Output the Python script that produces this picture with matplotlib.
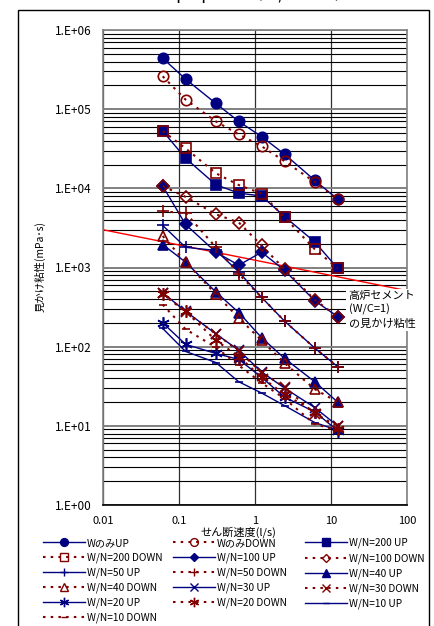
import matplotlib
matplotlib.use("Agg")
import matplotlib.pyplot as plt
from matplotlib.lines import Line2D
from matplotlib.patches import Rectangle
from matplotlib.ticker import FixedLocator, LogLocator, NullFormatter

plt.rcParams['font.family'] = ['Noto Sans CJK JP', 'DejaVu Sans']

# ---------------- data ----------------
shear = [0.061, 0.122, 0.306, 0.612, 1.22, 2.45, 6.12, 12.2]

w_up = [4.4e5, 2.4e5, 1.18e5, 7.0e4, 4.5e4, 2.7e4, 1.26e4, 7.3e3]
w_down = [2.6e5, 1.32e5, 7.0e4, 4.8e4, 3.4e4, 2.2e4, 1.2e4, 7.3e3]
wn200_up = [5.3e4, 2.4e4, 1.11e4, 8.7e3, 8.0e3, 4.4e3, 2.1e3, 9.8e2]
wn200_down = [5.3e4, 3.2e4, 1.55e4, 1.1e4, 8.6e3, 4.3e3, 1.7e3, 9.8e2]
wn100_up = [1.07e4, 3.5e3, 1.56e3, 1.07e3, 1.56e3, 9.2e2, 3.8e2, 2.4e2]
wn100_down = [1.07e4, 7.8e3, 4.7e3, 3.7e3, 1.9e3, 9.5e2, 3.9e2, 2.4e2]
wn50_up = [3.4e3, 1.8e3, 1.64e3, 8.8e2, 4.2e2, 2.1e2, 96, 56]
wn50_down = [5.1e3, 4.9e3, 1.8e3, 8.3e2, 4.2e2, 2.1e2, 96, 56]
wn40_up = [1.95e3, 1.17e3, 4.9e2, 2.7e2, 1.3e2, 71, 36, 20]
wn40_down = [2.5e3, 1.17e3, 4.6e2, 2.3e2, 1.2e2, 62, 29, 20]
wn30_up = [4.8e2, 2.8e2, 1.45e2, 90, 48, 30, 17, 10]
wn30_down = [4.7e2, 2.75e2, 1.45e2, 88, 47, 31, 14, 10]
wn20_up = [2.0e2, 1.07e2, 82, 69, 41, 23, 15, 8.7]
wn20_down = [4.6e2, 2.8e2, 1.2e2, 75, 41, 25, 15, 9.0]
wn10_up = [1.7e2, 87, 63, 36, 26, 18, 11, 8.8]
wn10_down = [3.4e2, 1.66e2, 98, 58, 35, 22, 10.5, 8.8]

slag_x = [0.01, 100]
slag_y = [3.0e3, 5.1e2]

labels = ["WのみUP", "WのみDOWN", "W/N=200 UP", "W/N=200 DOWN",
          "W/N=100 UP", "W/N=100 DOWN", "W/N=50 UP", "W/N=50 DOWN",
          "W/N=40 UP", "W/N=40 DOWN", "W/N=30 UP", "W/N=30 DOWN",
          "W/N=20 UP", "W/N=20 DOWN", "W/N=10 UP", "W/N=10 DOWN"]
series = [w_up, w_down, wn200_up, wn200_down, wn100_up, wn100_down,
          wn50_up, wn50_down, wn40_up, wn40_down, wn30_up, wn30_down,
          wn20_up, wn20_down, wn10_up, wn10_down]

xticks = [0.01, 0.1, 1, 10, 100]
xtick_labels = ["0.01", "0.1", "1", "10", "100"]
yticks = [1, 10, 100, 1e3, 1e4, 1e5, 1e6]
ytick_labels = ["1.E+00", "1.E+01", "1.E+02", "1.E+03", "1.E+04", "1.E+05", "1.E+06"]

# ---------------- styles ----------------
NAVY = "#000080"
DRED = "#800000"
ast = (6, 2, 0)
markers = ['o', 'o', 's', 's', 'D', 'D', '+', '+', '^', '^', 'x', 'x', ast, ast, '_', '_']
msizes = [7.5, 7.5, 7, 7, 6, 6, 8, 8, 7.5, 7.5, 7, 7, 9, 9, 6, 6]

W, H = 434, 626
fig = plt.figure(figsize=(W / 100, H / 100), dpi=100)

# outer frame
fig.patches.append(Rectangle((18 / W, 1 - 640 / H), 411 / W, 630 / H,
                             transform=fig.transFigure, fill=False,
                             edgecolor='black', lw=1.0))

# clipped title (only its lower edge is visible)
fig.text(0.52, 1 + 1 / H, "図－５　η－γ関係（W/Nごと）", ha='center', va='baseline',
         fontsize=13, color='black')

ax = fig.add_axes([103 / W, 1 - 505 / H, 304 / W, 475 / H])
ax.set_xscale('log')
ax.set_yscale('log')
ax.set_xlim(0.01, 100)
ax.set_ylim(1, 1e6)

ax.xaxis.set_major_locator(FixedLocator(xticks))
ax.set_xticklabels(xtick_labels, fontsize=8)
ax.xaxis.set_minor_formatter(NullFormatter())
ax.xaxis.set_minor_locator(FixedLocator([]))
ax.yaxis.set_major_locator(FixedLocator(yticks))
ax.set_yticklabels(ytick_labels, fontsize=8.5)
ax.yaxis.set_minor_locator(LogLocator(base=10, subs=range(2, 10)))
ax.yaxis.set_minor_formatter(NullFormatter())
ax.tick_params(axis='both', which='both', length=0)
ax.tick_params(axis='y', pad=8)
ax.tick_params(axis='x', pad=8)

ax.grid(True, axis='y', which='minor', color='black', lw=0.8)
ax.grid(True, axis='y', which='major', color='#808080', lw=1.4)
ax.grid(True, axis='x', which='major', color='#303030', lw=0.9)
ax.set_axisbelow(True)
for s in ax.spines.values():
    s.set_color('#808080')
    s.set_linewidth(1.2)
ax.spines['bottom'].set_color('black')

for i, (vals, lab) in enumerate(zip(series, labels)):
    up = (i % 2 == 0)
    if up:
        ax.plot(shear, vals, color=NAVY, lw=1.0, marker=markers[i],
                markersize=msizes[i], markerfacecolor=NAVY,
                markeredgecolor=NAVY, markeredgewidth=1.2, label=lab,
                zorder=3)
    else:
        ax.plot(shear, vals, color=DRED, lw=1.5, ls=(0, (1.2, 2.5)),
                marker=markers[i], markersize=msizes[i],
                markerfacecolor='none', markeredgecolor=DRED,
                markeredgewidth=1.2, label=lab, zorder=4)

ax.plot(slag_x, slag_y, color='red', lw=1.0, zorder=2)

ax.text(17.0, 5.1e2, "高炉セメント\n(W/C=1)\nの見かけ粘性", fontsize=8,
        ha='left', va='top', linespacing=1.4, clip_on=False,
        bbox=dict(facecolor='white', edgecolor='none', pad=1.5), zorder=6)

ax.set_xlabel("せん断速度(l/s)", fontsize=8)
ax.xaxis.set_label_coords((238 - 103) / 304, -(532 - 505) / 475)
ax.xaxis.label.set_va('center')
ax.set_ylabel("見かけ粘性(mPa･s)", fontsize=7.5)
ax.yaxis.set_label_coords(-(103 - 40) / 304, (505 - 267) / 475)
ax.yaxis.label.set_va('center')

# legend: three separate columns, row-wise order as in reference
col_x = [43, 173, 305]
for c in range(3):
    idx = list(range(c, len(labels), 3))
    hs = []
    for i in idx:
        up = (i % 2 == 0)
        if up:
            h = Line2D([], [], color=NAVY, lw=1.0, marker=markers[i],
                       markersize=msizes[i] * 0.75, markerfacecolor=NAVY,
                       markeredgecolor=NAVY)
        else:
            h = Line2D([], [], color=DRED, lw=1.5, ls=(0, (1.2, 2.5)),
                       marker=markers[i], markersize=msizes[i] * 0.75,
                       markerfacecolor='none', markeredgecolor=DRED)
        hs.append(h)
    fig.legend(hs, [labels[i] for i in idx], ncol=1,
               loc='upper left', bbox_to_anchor=(col_x[c] / W, 1 - 538 / H),
               frameon=False, fontsize=7.3, handlelength=4.1,
               handletextpad=0.2, labelspacing=0.45, borderpad=0,
               borderaxespad=0)

fig.savefig("out.png", dpi=100)
